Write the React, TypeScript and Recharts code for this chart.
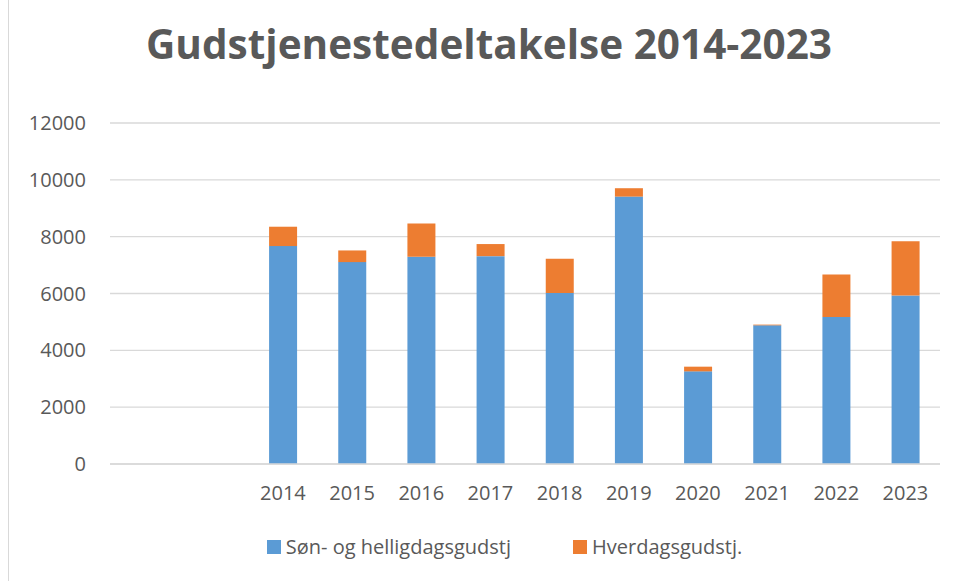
import { BarChart, Bar, XAxis, YAxis, CartesianGrid, Legend } from "recharts";

// ---------------------------------------------------------------------------
// Data
// ---------------------------------------------------------------------------

const years = ["", " ", "2014", "2015", "2016", "2017", "2018", "2019", "2020", "2021", "2022", "2023"];
const sondag = [null, null, 7670, 7105, 7295, 7315, 6020, 9410, 3260, 4880, 5175, 5930];
const hverdag = [null, null, 680, 410, 1165, 425, 1205, 295, 165, 25, 1495, 1905];
const yTicks = [0, 2000, 4000, 6000, 8000, 10000, 12000];

const chartData = years.map((y, i) => ({
  year: y,
  sondag: sondag[i],
  hverdag: hverdag[i],
}));

const BLUE = "#5B9BD5";
const ORANGE = "#ED7D31";
const TEXT = "#595959";
const GRID = "#D9D9D9";
const FONT = "'Open Sans', 'Liberation Sans', sans-serif";

function LegendContent() {
  const items = [
    { label: "Søn- og helligdagsgudstj", color: BLUE },
    { label: "Hverdagsgudstj.", color: ORANGE },
  ];
  return (
    <div style={{ display: "flex", justifyContent: "center", gap: 62, fontFamily: FONT, fontSize: 20, color: TEXT }}>
      {items.map((it) => (
        <div key={it.label} style={{ display: "flex", alignItems: "center", gap: 5 }}>
          <div style={{ width: 14, height: 14, background: it.color }} />
          <span>{it.label}</span>
        </div>
      ))}
    </div>
  );
}

export default function App() {
  return (
    <div style={{ position: "absolute", left: 0, top: 0, width: 957, height: 581, background: "#fff" }}>
      <div style={{ position: "absolute", left: 8, top: 0, width: 1, height: 581, background: GRID }} />
      <div
        style={{
          position: "absolute",
          left: 0,
          top: 16,
          width: 978,
          textAlign: "center",
          fontFamily: FONT,
          fontWeight: 700,
          fontSize: 40.5,
          color: TEXT,
        }}
      >
        Gudstjenestedeltakelse 2014-2023
      </div>
      <BarChart
        width={957}
        height={581}
        data={chartData}
        margin={{ top: 123, right: 17, left: 0, bottom: 30 }}
        barCategoryGap="30%"
      >
        <CartesianGrid vertical={false} stroke={GRID} strokeWidth={1.3} />
        <XAxis
          dataKey="year"
          height={60}
          tickLine={false}
          axisLine={{ stroke: GRID, strokeWidth: 1.3 }}
          tick={{ fontSize: 20, fill: TEXT, fontFamily: FONT }}
          tickMargin={16}
          interval={0}
        />
        <YAxis
          width={110}
          domain={[0, 12000]}
          ticks={yTicks}
          tickLine={false}
          axisLine={false}
          tick={{ fontSize: 20, fill: TEXT, fontFamily: FONT }}
          tickMargin={18}
        />
        <Legend verticalAlign="bottom" content={<LegendContent />} wrapperStyle={{ left: 0, width: 1009, top: 533 }} />
        <Bar dataKey="sondag" stackId="a" fill={BLUE} isAnimationActive={false} />
        <Bar dataKey="hverdag" stackId="a" fill={ORANGE} isAnimationActive={false} />
      </BarChart>
    </div>
  );
}
